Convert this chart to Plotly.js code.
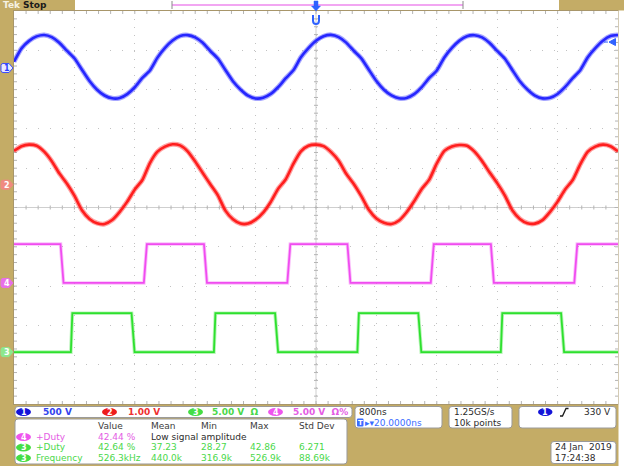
<!DOCTYPE html>
<html><head><meta charset="utf-8">
<script src="https://cdn.plot.ly/plotly-3.0.1.min.js"></script>
<style>html,body{margin:0;padding:0;background:#fff;}#chart{width:624px;height:470px;}</style>
</head><body><div id="chart"></div>
<script>
const timeNs = [-4000,-3900,-3800,-3700,-3600,-3500,-3400,-3300,-3200,-3100,-3000,-2900,-2800,-2700,-2600,-2500,-2400,-2300,-2200,-2100,-2000,-1900,-1800,-1700,-1600,-1500,-1400,-1300,-1200,-1100,-1000,-900,-800,-700,-600,-500,-400,-300,-200,-100,0,100,200,300,400,500,600,700,800,900,1000,1100,1200,1300,1400,1500,1600,1700,1800,1900,2000,2100,2200,2300,2400,2500,2600,2700,2800,2900,3000,3100,3200,3300,3400,3500,3600,3700,3800,3900,4000];
const ch1Volts = [80,250,345,402,420,392,322,220,124,-22,-165,-276,-350,-386,-382,-332,-245,-126,-32,
  132,256,349,407,418,389,320,216,120,-26,-168,-273,-352,-388,-379,-330,-242,-130,-30,
  136,252,346,404,421,393,323,219,123,-23,-166,-277,-349,-385,-381,-333,-244,-127,-31,
  134,255,348,405,417,390,319,217,121,-25,-169,-274,-351,-387,-380,-331,-241,-129,-28,
  137,253,347,406,419];
const ch2Volts = [0.86,0.98,1.02,0.99,0.84,0.60,0.29,0.03,-0.28,-0.65,-0.87,-0.98,-1.00,-0.90,-0.69,-0.43,-0.12,0.12,0.55,
  0.84,0.97,1.03,1.00,0.85,0.59,0.30,0.01,-0.27,-0.66,-0.88,-0.99,-0.99,-0.89,-0.71,-0.44,-0.10,0.14,0.53,
  0.85,0.99,1.02,0.98,0.83,0.61,0.28,0.02,-0.29,-0.64,-0.86,-0.97,-1.00,-0.91,-0.70,-0.42,-0.11,0.13,0.54,
  0.86,0.97,1.01,0.99,0.84,0.60,0.31,0.04,-0.27,-0.65,-0.87,-0.98,-0.99,-0.90,-0.69,-0.43,-0.12,0.12,0.52,
  0.84,0.97,1.02,0.98,0.85];
const ch3Time  = [-4000,-3247,-3227,-2443,-2403,-1352,-1332,-542,-502,548,568,1355,1395,2448,2468,3246,3286,4000];
const ch3Volts = [0,0,4.95,4.95,0,0,4.95,4.95,0,0,4.95,4.95,0,0,4.95,4.95,0,0];
const ch4Time  = [-4000,-3384,-3344,-2280,-2240,-1484,-1444,-380,-340,416,456,1520,1560,2316,2356,3421,3461,4000];
const ch4Volts = [4.95,4.95,0,0,4.95,4.95,0,0,4.95,4.95,0,0,4.95,4.95,0,0,4.95,4.95];
const channelLabels = ['1','2','3','4'];
const channelScaleText = ['500 V','1.00 V','5.00 V  Ω','5.00 V  Ω%'];
const triggerLevelV = 330;
const measHeaders = ['Value','Mean','Min','Max','Std Dev'];
const measChannels = ['4','3','3'];
const measNames = ['+Duty','+Duty','Frequency'];
const measRow1 = ['42.44 %','Low signal amplitude'];
const measRow2 = ['42.64 %','37.23','28.27','42.86','6.271'];
const measRow3 = ['526.3kHz','440.0k','316.9k','526.9k','88.69k'];
const horizText = ['800ns','20.0000ns'];
const acqText = ['1.25GS/s','10k points'];
const dateText = ['24 Jan  2019','17:24:38'];

// ---------------- channel setup (scale V/div, position div) ----------------
const CH = {
  '1': {scale:500, pos:3.55, color:'#2626ff', fuzz:'rgba(60,60,255,0.45)', tag:'#eaeaff', tagText:'#2a3cff', txt:'#3344ee', ell:'#1414d8'},
  '2': {scale:1, pos:0.58, color:'#ff1e1e', fuzz:'rgba(255,50,50,0.45)', tag:'#f08a80', tagText:'#ffffff', txt:'#ee3030', ell:'#ee1c1c'},
  '3': {scale:5, pos:-3.68, color:'#2ee02e', fuzz:'rgba(50,224,50,0.35)', tag:'#8ee88e', tagText:'#ffffff', txt:'#4ad84a', ell:'#44dd44'},
  '4': {scale:5, pos:-1.92, color:'#f04cf0', fuzz:'rgba(240,76,240,0.35)', tag:'#e870e8', tagText:'#ffffff', txt:'#e45ce4', ell:'#ee55ee'}
};
const rng = c => [(-5 - CH[c].pos) * CH[c].scale, (5 - CH[c].pos) * CH[c].scale];

// ---------------- geometry helpers ----------------
const L=14, R=618, T=11, B=404, W=R-L, H=B-T;
const px = x => (x - L) / W, py = y => (B - y) / H;
const P = (x,y) => px(x).toFixed(5) + ',' + py(y).toFixed(5);
const Cx = (L+R)/2, Cy = (T+B)/2;
const FONT = 'DejaVu Sans, Verdana, sans-serif';
const DARK = '#2b2b2b';

function rr(x0,y0,x1,y1,r){
  return `M${P(x0+r,y0)}L${P(x1-r,y0)}Q${P(x1,y0)} ${P(x1,y0+r)}L${P(x1,y1-r)}Q${P(x1,y1)} ${P(x1-r,y1)}`+
         `L${P(x0+r,y1)}Q${P(x0,y1)} ${P(x0,y1-r)}L${P(x0,y0+r)}Q${P(x0,y0)} ${P(x0+r,y0)}Z`;
}
const shapes = [];
const ann = [];
function pathS(path, fill, line, lw, layer){ shapes.push({type:'path', xref:'paper', yref:'paper', path, fillcolor:fill||'rgba(0,0,0,0)', line:{color:line||'rgba(0,0,0,0)', width:lw||0}, layer:layer||'above'}); }
function rect(x0,y0,x1,y1,fill){ shapes.push({type:'rect', xref:'paper', yref:'paper', x0:px(x0), x1:px(x1), y0:py(y1), y1:py(y0), fillcolor:fill, line:{width:0}, layer:'above'}); }
function ell(x0,y0,x1,y1,fill){ shapes.push({type:'circle', xref:'paper', yref:'paper', x0:px(x0), x1:px(x1), y0:py(y1), y1:py(y0), fillcolor:fill, line:{width:0}, layer:'above'}); }
function txt(x,y,text,color,size,anchor,bold){
  ann.push({xref:'paper', yref:'paper', x:px(x), y:py(y), text: bold ? '<b>'+text+'</b>' : text, showarrow:false,
    xanchor:anchor||'left', yanchor:'middle', borderpad:0, font:{family:FONT, size:size||9, color:color}});
}

// ---------------- frame pieces ----------------
rect(75, 0, 559, 10, '#ffffff');            // top status strip
rect(618.5, 10.5, 625, 471, '#ffffff');     // right white edge
rect(0, 466, 625, 471, '#ffffff');          // bottom white edge
// record view bar
pathS(`M${P(172,5)}L${P(463,5)}`, null, '#f2a6f2', 2);
pathS(`M${P(172,1)}L${P(172,9)}M${P(463,1)}L${P(463,9)}`, null, '#8a8a8a', 1);
txt(2, 5, 'Tek', '#f6f2e2', 9, 'left', true);
txt(22, 5, 'Stop', '#1a1a1a', 9, 'left', true);
// trigger position markers
pathS(`M${P(314,1)}L${P(318,1)}L${P(318,6)}L${P(320.5,6)}L${P(316,11)}L${P(311.5,6)}L${P(314,6)}Z`, '#2f62ff', '#2f62ff', 0.5);
pathS(`M${P(313,15)}L${P(313,20.5)}Q${P(313,24)} ${P(316,24)}Q${P(319,24)} ${P(319,20.5)}L${P(319,15)}`, null, '#2f62ff', 2);

// graticule: center cross + ticks
let cross = `M${P(L,Cy)}L${P(R,Cy)}M${P(Cx,T)}L${P(Cx,B)}`;
pathS(cross, null, '#cfcfcf', 1, 'below');
let tk = '';
for (let k=1;k<50;k++){
  const x = L + k*W/50, y = T + k*H/50;
  tk += `M${P(x,Cy-2)}L${P(x,Cy+2)}M${P(Cx-2,y)}L${P(Cx+2,y)}`;
  tk += `M${P(x,T)}L${P(x,T+3)}M${P(x,B)}L${P(x,B-3)}M${P(L,y)}L${P(L+3,y)}M${P(R,y)}L${P(R-3,y)}`;
}
pathS(tk, null, '#b4b4b4', 1, 'below');

// channel ground tags on the left strip
channelLabels.forEach(c => {
  const y = Cy - CH[c].pos * H / 10;
  pathS(`M${P(3,y-4.5)}L${P(9,y-4.5)}L${P(13,y)}L${P(9,y+4.5)}L${P(3,y+4.5)}Q${P(1,y+4.5)} ${P(1,y+2.5)}L${P(1,y-2.5)}Q${P(1,y-4.5)} ${P(3,y-4.5)}Z`,
        CH[c].tag, c==='1' ? '#3a4cff' : CH[c].tag, 1);
  txt(6.5, y+0.3, c, CH[c].tagText, 8, 'center', true);
});
// trigger level marker on ch1 (right edge)
(function(){
  const vpp = CH['1'].scale / (H/10);  // volts per pixel
  const y0 = triggerLevelV;
  shapes.push({type:'path', xref:'paper', yref:'y', layer:'above',
    path:`M${px(609).toFixed(5)},${y0}L${px(615.5).toFixed(5)},${y0+3.5*vpp}L${px(615.5).toFixed(5)},${y0-3.5*vpp}Z M${px(604).toFixed(5)},${y0}L${px(608).toFixed(5)},${y0}`,
    fillcolor:'#2f62ff', line:{color:'#2f62ff', width:1}});
})();

// ---------------- bottom readouts ----------------
const BOXLINE = '#9a9a9a';
pathS(rr(15,406.5,352,417.5,3), '#ffffff', BOXLINE, 1);
const chX = [[16,31,42],[102,117,127],[188,203,211],[268,283,292]];
channelLabels.forEach((c,i) => {
  ell(chX[i][0],408,chX[i][1],416,CH[c].ell);
  txt((chX[i][0]+chX[i][1])/2, 412.3, c, '#ffffff', 8, 'center', true);
  txt(chX[i][2], 412, channelScaleText[i], CH[c].txt, 9, 'left', true);
});
// measurement table
pathS(rr(15,419,347,464,3), '#ffffff', BOXLINE, 1);
const colX = [97,150,200,249,298];
measHeaders.forEach((h,i) => txt(colX[i], 426, h, '#3c3c3c', 9));
const rowY = [437,447.5,458];
const rowVals = [measRow1, measRow2, measRow3];
measChannels.forEach((c,r) => {
  ell(16,rowY[r]-4,31,rowY[r]+4,CH[c].ell);
  txt(23.5, rowY[r]+0.3, c, '#ffffff', 8, 'center', true);
  txt(35, rowY[r], measNames[r], CH[c].txt, 9);
  rowVals[r].forEach((v,i) => {
    const col = (r===0 && i===1) ? DARK : CH[c].txt;
    txt(colX[i], rowY[r], v, col, 9);
  });
});
// horizontal box
pathS(rr(355,406.5,442,428,3), '#ffffff', BOXLINE, 1);
txt(358, 412, horizText[0], DARK, 9);
pathS(rr(357,418.5,363.5,426.5,1), '#3a6cff', null, 0);
txt(360.3, 422.6, 'T', '#ffffff', 7, 'center', true);
txt(364, 422.5, '▸▾' + horizText[1], '#3a6cff', 9);
// acquisition box
pathS(rr(449,406.5,512,428,3), '#ffffff', BOXLINE, 1);
txt(452.5, 412, acqText[0], DARK, 9);
txt(452.5, 422.5, acqText[1], DARK, 9);
// trigger box
pathS(rr(519,406.5,616,428,3), '#ffffff', BOXLINE, 1);
ell(538,408,552.5,416,CH['1'].ell);
txt(545.2, 412.3, '1', '#ffffff', 8, 'center', true);
pathS(`M${P(560,416)}L${P(562.5,416)}L${P(566,408.5)}L${P(568.5,408.5)}`, null, '#1a1a1a', 1.3);
txt(612, 412, triggerLevelV + ' V', DARK, 9, 'right');
// date box
pathS(rr(551,441.5,616,463.5,3), '#ffffff', BOXLINE, 1);
txt(554, 447.5, dateText[0], DARK, 9);
txt(554, 457.5, dateText[1], DARK, 9);

// ---------------- traces ----------------
const traces = [
  {x:timeNs, y:ch1Volts, yaxis:'y', mode:'lines', line:{color:CH['1'].fuzz, width:5, shape:'spline', smoothing:0.6}, hoverinfo:'skip'},
  {x:timeNs, y:ch1Volts, yaxis:'y', mode:'lines', line:{color:CH['1'].color, width:2.6, shape:'spline', smoothing:0.6}, hoverinfo:'skip'},
  {x:timeNs, y:ch2Volts, yaxis:'y2', mode:'lines', line:{color:CH['2'].fuzz, width:5, shape:'spline', smoothing:0.6}, hoverinfo:'skip'},
  {x:timeNs, y:ch2Volts, yaxis:'y2', mode:'lines', line:{color:CH['2'].color, width:2.6, shape:'spline', smoothing:0.6}, hoverinfo:'skip'},
  {x:ch3Time, y:ch3Volts, yaxis:'y3', mode:'lines', line:{color:CH['3'].fuzz, width:3.6}, hoverinfo:'skip'},
  {x:ch3Time, y:ch3Volts, yaxis:'y3', mode:'lines', line:{color:CH['3'].color, width:1.8}, hoverinfo:'skip'},
  {x:ch4Time, y:ch4Volts, yaxis:'y4', mode:'lines', line:{color:CH['4'].fuzz, width:3.6}, hoverinfo:'skip'},
  {x:ch4Time, y:ch4Volts, yaxis:'y4', mode:'lines', line:{color:CH['4'].color, width:1.8}, hoverinfo:'skip'}
];
const r1 = rng('1');
const hidden = c => ({range:rng(c), overlaying:'y', visible:false, fixedrange:true});
const layout = {
  width:624, height:470, margin:{l:L, r:624-R, t:T, b:470-B, pad:0},
  paper_bgcolor:'#c4ac66', plot_bgcolor:'#ffffff', showlegend:false,
  xaxis:{range:[-4000,4000], dtick:800, tick0:0, showgrid:true, gridcolor:'#c2c2c2', gridwidth:1, griddash:'1px,7px',
         zeroline:false, showline:true, mirror:true, linecolor:'#a8966a', linewidth:1, showticklabels:false, ticks:'', fixedrange:true},
  yaxis:{range:r1, tick0:r1[1], dtick:CH['1'].scale, showgrid:true, gridcolor:'#c2c2c2', gridwidth:1, griddash:'1px,11px',
         zeroline:false, showline:true, mirror:true, linecolor:'#a8966a', linewidth:1, showticklabels:false, ticks:'', fixedrange:true},
  yaxis2:hidden('2'), yaxis3:hidden('3'), yaxis4:hidden('4'),
  shapes:shapes, annotations:ann
};
Plotly.newPlot('chart', traces, layout, {staticPlot:true, displayModeBar:false});
</script>
</body></html>
